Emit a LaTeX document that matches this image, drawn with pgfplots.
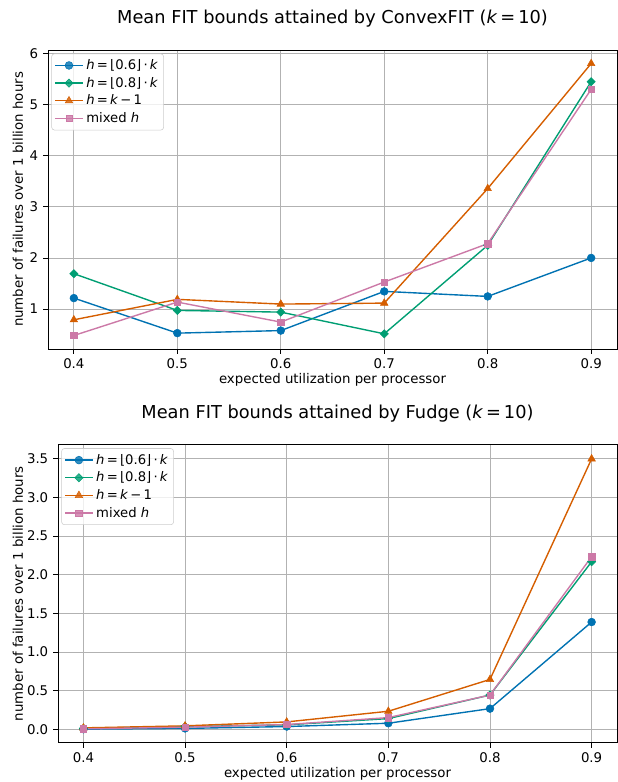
\documentclass[border=0pt]{standalone}
\usepackage{fontspec}
\setmainfont{DejaVu Sans}
\usepackage{pgfplots}
\pgfplotsset{compat=1.18}

\definecolor{cbblue}{HTML}{0072B2}
\definecolor{cbgreen}{HTML}{009E73}
\definecolor{cborange}{HTML}{D55E00}
\definecolor{cbpink}{HTML}{CC79A7}

% matplotlib-like look, 1px = 0.72pt
\pgfplotsset{
  mpl/.style={
    scale only axis,
    xmin=0.375, xmax=0.925,
    xtick={0.4,0.5,0.6,0.7,0.8,0.9},
    xticklabel style={/pgf/number format/.cd, fixed, fixed zerofill, precision=1},
    grid=major,
    major grid style={color=black!30, line width=0.6pt},
    tick align=outside, tick pos=left,
    major tick length=3.5pt,
    axis line style={line width=0.6pt},
    every tick/.style={black, line width=0.6pt},
    tick label style={font=\fontsize{9.6}{11}\selectfont},
    /pgf/number format/assume math mode=true,
    label style={font=\fontsize{9.6}{11}\selectfont},
    title style={font=\fontsize{12.8}{15}\selectfont, at={(0.5,1)}, anchor=base, yshift=12.7pt},
    xlabel={expected utilization per processor},
    ylabel={number of failures over 1 billion hours},
    xlabel style={at={(rel axis cs:0.5,0)}, anchor=base, yshift=-25.2pt},
    legend style={at={(0.006,0.988)}, anchor=north west,
      font=\fontsize{9.5}{11}\selectfont, draw=black!20, rounded corners=2pt,
      fill=white, fill opacity=0.8, text opacity=1, inner sep=2pt},
    legend cell align=left,
    legend image code/.code={\draw[mark repeat=2,mark phase=2] plot coordinates {(0cm,0cm)(0.35cm,0cm)(0.7cm,0cm)};},
    every axis plot/.append style={line width=1pt},
  },
  sA/.style={color=cbblue, mark=*, mark size=2.8pt, mark options={solid, fill=cbblue, line width=0.4pt}},
  sB/.style={color=cbgreen, mark=square*, mark size=2.1pt, mark options={solid, fill=cbgreen, rotate=45, line width=0.4pt}},
  sC/.style={color=cborange, mark=triangle*, mark size=3.1pt, mark options={solid, fill=cborange, line width=0.4pt}},
  sD/.style={color=cbpink, mark=square*, mark size=2.3pt, mark options={solid, fill=cbpink, line width=0.4pt}},
}

\begin{document}
\begin{tikzpicture}
\path[use as bounding box] (0,0) rectangle (444.96pt,563.04pt);

% ConvexFIT (values in units of 1e10)
\begin{axis}[mpl,
    at={(34.56pt,311.76pt)}, anchor=south west,
    width=409.7pt, height=215.3pt,
    ymin=0.22, ymax=6.065,
    ytick={1,2,3,4,5,6},
    ylabel style={at={(rel axis cs:0,0.5)}, anchor=center, yshift=21.6pt},
    title={Mean FIT bounds attained by ConvexFIT (\textit{k}\,=\,10)},
]
\addplot[sA] coordinates {(0.4,1.215) (0.5,0.53) (0.6,0.58) (0.7,1.346) (0.8,1.248) (0.9,2.0)};
\addlegendentry{\textit{h}\,=\,⌊0.6⌋\,·\,\textit{k}}
\addplot[sB] coordinates {(0.4,1.692) (0.5,0.974) (0.6,0.941) (0.7,0.517) (0.8,2.247) (0.9,5.445)};
\addlegendentry{\textit{h}\,=\,⌊0.8⌋\,·\,\textit{k}}
\addplot[sC] coordinates {(0.4,0.791) (0.5,1.19) (0.6,1.098) (0.7,1.117) (0.8,3.356) (0.9,5.80)};
\addlegendentry{\textit{h}\,=\,\textit{k}\,−\,1}
\addplot[sD] coordinates {(0.4,0.484) (0.5,1.137) (0.6,0.746) (0.7,1.529) (0.8,2.279) (0.9,5.295)};
\addlegendentry{mixed \textit{h}}
\node[anchor=base west, font=\fontsize{9.6}{11}\selectfont, xshift=-2pt, yshift=3pt] at (rel axis cs:0,1) {1e10};
\end{axis}

% Fudge (values in units of 1e12)
\begin{axis}[mpl,
    at={(41.76pt,28.3pt)}, anchor=south west,
    width=402.5pt, height=214.6pt,
    ymin=-0.175, ymax=3.684,
    ytick={0,0.5,1,1.5,2,2.5,3,3.5},
    yticklabel style={/pgf/number format/.cd, fixed, fixed zerofill, precision=1},
    ylabel style={at={(rel axis cs:0,0.5)}, anchor=center, yshift=28.8pt},
    title={Mean FIT bounds attained by Fudge (\textit{k}\,=\,10)},
]
\addplot[sA] coordinates {(0.4,0.0) (0.5,0.01) (0.6,0.034) (0.7,0.077) (0.8,0.266) (0.9,1.387)};
\addlegendentry{\textit{h}\,=\,⌊0.6⌋\,·\,\textit{k}}
\addplot[sB] coordinates {(0.4,0.01) (0.5,0.034) (0.6,0.056) (0.7,0.137) (0.8,0.442) (0.9,2.168)};
\addlegendentry{\textit{h}\,=\,⌊0.8⌋\,·\,\textit{k}}
\addplot[sC] coordinates {(0.4,0.017) (0.5,0.043) (0.6,0.094) (0.7,0.232) (0.8,0.644) (0.9,3.50)};
\addlegendentry{\textit{h}\,=\,\textit{k}\,−\,1}
\addplot[sD] coordinates {(0.4,0.004) (0.5,0.026) (0.6,0.06) (0.7,0.15) (0.8,0.442) (0.9,2.233)};
\addlegendentry{mixed \textit{h}}
\node[anchor=base west, font=\fontsize{9.6}{11}\selectfont, xshift=-6pt, yshift=3pt] at (rel axis cs:0,1) {1e12};
\end{axis}
\end{tikzpicture}
\end{document}
